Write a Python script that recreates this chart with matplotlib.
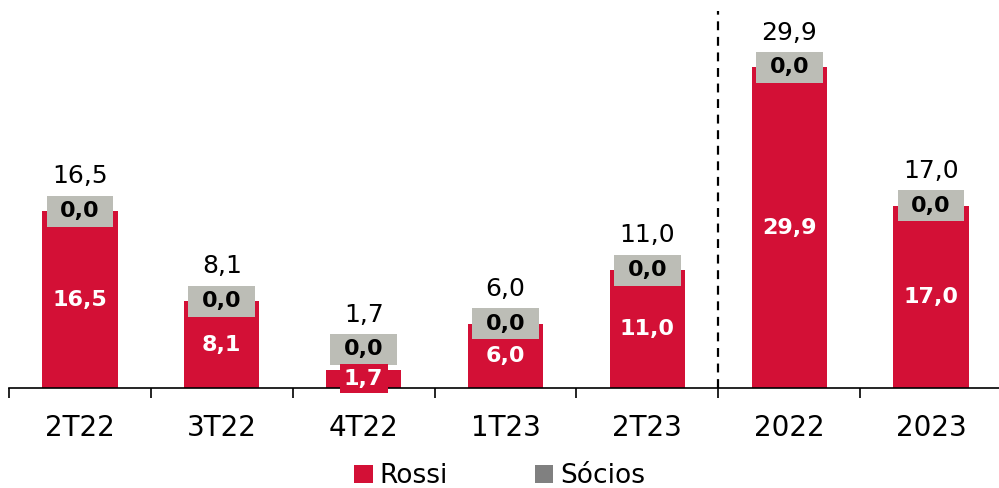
import numpy as np
import matplotlib
matplotlib.use("Agg")
import matplotlib.pyplot as plt
from matplotlib.patches import Patch

categories = ["2T22", "3T22", "4T22", "1T23", "2T23", "2022", "2023"]
rossi = [16.5, 8.1, 1.7, 6.0, 11.0, 29.9, 17.0]
socios = [0.0, 0.0, 0.0, 0.0, 0.0, 0.0, 0.0]

RED = "#D31036"
BOX_GRAY = "#BCBDB6"
LEG_GRAY = "#808080"


def br(v):
    return f"{v:.1f}".replace(".", ",")


plt.rcParams["font.family"] = ["DejaVu Sans"]

fig = plt.figure(figsize=(9.99, 4.88), dpi=100)
ax = fig.add_axes([9 / 999, 100 / 488, 993 / 999, 386 / 488])

x = np.arange(len(categories))
r = np.array(rossi)
s = np.array(socios)
total = r + s

ax.bar(x, r, width=0.53, color=RED, zorder=2)

# label boxes of the Sócios series, pushed up when the red bar is too short
box_h = 2.9
box_c = np.maximum(r + s, 3.6)
ax.bar(x, box_h, bottom=box_c - box_h / 2, width=0.47, color=BOX_GRAY, zorder=3)

for i in range(len(x)):
    ax.text(x[i], r[i] / 2, br(r[i]), ha="center", va="center", color="white",
            fontsize=16, fontweight="bold", zorder=4,
            bbox=dict(boxstyle="square,pad=0.2", fc=RED, ec="none"))
    ax.text(x[i], box_c[i], br(s[i]), ha="center", va="center", color="black",
            fontsize=16, fontweight="bold", zorder=4)
    ax.annotate(br(total[i]), (x[i], box_c[i]), xytext=(0, 25),
                textcoords="offset points", ha="center", va="center",
                fontsize=18, color="black")

ax.vlines(4.5, 0, 35.2, colors="black", linestyles=(0, (4, 3)), linewidth=1.6)

ax.set_xlim(-0.5, len(categories) - 0.5)
ax.set_ylim(0, 36)
for sp in ["left", "right", "top"]:
    ax.spines[sp].set_visible(False)
ax.spines["bottom"].set_linewidth(1.2)
ax.set_yticks([])
ax.set_xticks(x)
ax.set_xticklabels(categories, fontsize=20)
ax.set_xticks(np.arange(-0.5, len(categories), 1.0), minor=True)
ax.tick_params(axis="x", which="major", length=0, pad=19)
ax.tick_params(axis="x", which="minor", length=7.5, width=1.2, direction="out")

handles = [Patch(facecolor=RED, label="Rossi"), Patch(facecolor=LEG_GRAY, label="Sócios")]
fig.legend(handles=handles, loc="center", bbox_to_anchor=(0.5, 1 - 476 / 488),
           ncol=2, frameon=False, fontsize=19, handlelength=0.7, handleheight=0.7,
           handletextpad=0.25, columnspacing=3.3, borderpad=0)

fig.savefig("out.png", dpi=100)
